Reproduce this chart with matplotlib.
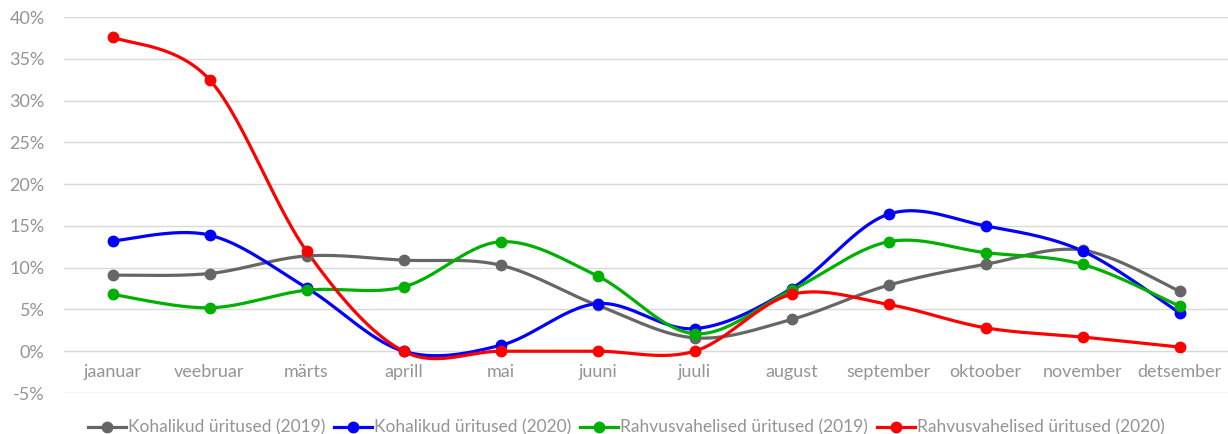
import matplotlib
matplotlib.use('Agg')
import matplotlib.pyplot as plt
import numpy as np
from matplotlib.lines import Line2D
from matplotlib.ticker import FuncFormatter

plt.rcParams['font.family'] = ['Lato', 'DejaVu Sans']

months = ['jaanuar', 'veebruar', 'märts', 'aprill', 'mai', 'juuni', 'juuli',
          'august', 'september', 'oktoober', 'november', 'detsember']

kohalikud_2019 = [9.1, 9.3, 11.4, 10.9, 10.3, 5.5, 1.6, 3.8, 7.9, 10.4, 12.1, 7.2]
kohalikud_2020 = [13.2, 13.9, 7.6, 0.0, 0.7, 5.7, 2.7, 7.5, 16.4, 15.0, 12.0, 4.6]
rahvus_2019 = [6.8, 5.2, 7.3, 7.7, 13.1, 9.0, 2.1, 7.3, 13.1, 11.8, 10.4, 5.4]
rahvus_2020 = [37.6, 32.5, 12.0, 0.0, 0.0, 0.0, 0.0, 6.8, 5.6, 2.8, 1.7, 0.5]

series = [
    ('Kohalikud üritused (2019)', kohalikud_2019, '#666666'),
    ('Kohalikud üritused (2020)', kohalikud_2020, '#0000ff'),
    ('Rahvusvahelised üritused (2019)', rahvus_2019, '#00b000'),
    ('Rahvusvahelised üritused (2020)', rahvus_2020, '#ff0000'),
]

C_TEXT = '#949494'
C_GRID = '#d9d9d9'


def smooth(x, y, n=30):
    # Excel-style smoothed line: Catmull-Rom segments as cubic Bezier
    x = np.asarray(x, float)
    y = np.asarray(y, float)
    px = np.concatenate([[x[0]], x, [x[-1]]])
    py = np.concatenate([[y[0]], y, [y[-1]]])
    xs, ys = [], []
    t = np.linspace(0, 1, n)
    for i in range(1, len(px) - 2):
        p0 = np.array([px[i], py[i]])
        p3 = np.array([px[i + 1], py[i + 1]])
        c1 = p0 + (np.array([px[i + 1], py[i + 1]]) - np.array([px[i - 1], py[i - 1]])) / 6
        c2 = p3 - (np.array([px[i + 2], py[i + 2]]) - np.array([px[i], py[i]])) / 6
        b = ((1 - t) ** 3)[:, None] * p0 + (3 * (1 - t) ** 2 * t)[:, None] * c1 \
            + (3 * (1 - t) * t ** 2)[:, None] * c2 + (t ** 3)[:, None] * p3
        xs.extend(b[:, 0])
        ys.extend(b[:, 1])
    return xs, ys


fig = plt.figure(figsize=(12.28, 4.34), dpi=100)
ax = fig.add_axes([64 / 1228, 41 / 434, 1164 / 1228, 376 / 434])

x = np.arange(len(months))
handles = []
for name, vals, col in series:
    sx, sy = smooth(x, vals)
    ax.plot(sx, sy, color=col, lw=2.3, solid_capstyle='round', zorder=3)
    ax.plot(x, vals, 'o', color=col, ms=7.5, zorder=4)
    handles.append(Line2D([], [], color=col, lw=2.3, marker='o', ms=7.5))

ax.set_xlim(-0.5, 11.5)
ax.set_ylim(-5, 40)
ax.set_yticks(np.arange(-5, 41, 5))
ax.yaxis.set_major_formatter(FuncFormatter(lambda v, p: f'{v:.0f}%'))
ax.grid(axis='y', color=C_GRID, lw=1)
ax.set_axisbelow(True)
for s in ax.spines.values():
    s.set_visible(False)
ax.spines['bottom'].set_position(('data', 0))
ax.set_xticks(x)
ax.set_xticklabels(months)
ax.tick_params(axis='x', length=0, pad=9, labelsize=13, labelcolor=C_TEXT)
ax.tick_params(axis='y', length=0, pad=14, labelsize=13, labelcolor=C_TEXT)

fig.legend(handles, [s[0] for s in series], loc='lower center',
           bbox_to_anchor=(0.51, -0.04), ncol=4, frameon=False,
           handlelength=2.2, handletextpad=0.1, columnspacing=0.5,
           labelcolor=C_TEXT, prop={'size': 12.5})

fig.savefig('out.png', dpi=100, facecolor='white')
